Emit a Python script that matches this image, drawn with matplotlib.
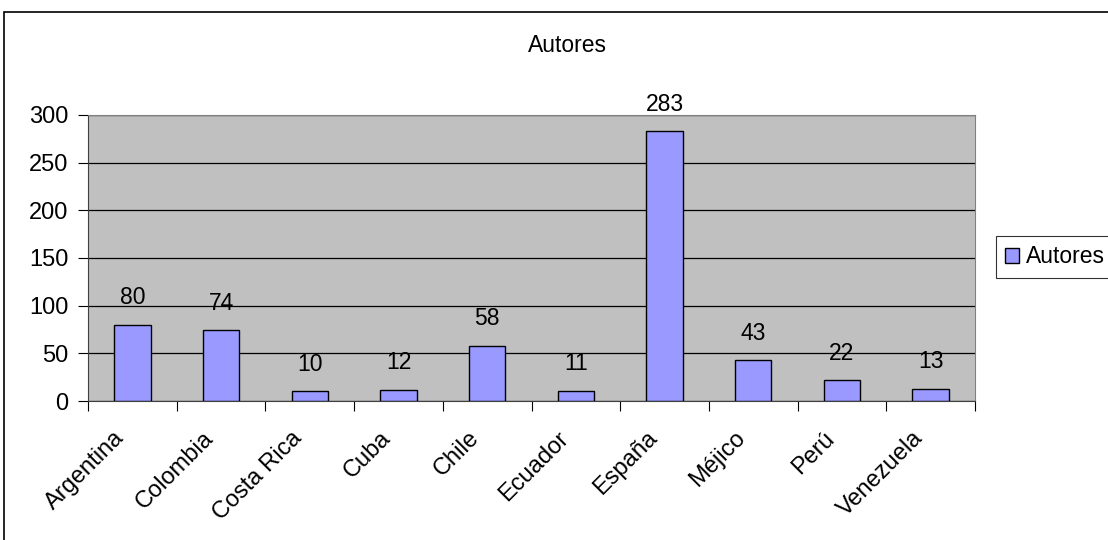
import numpy as np
import matplotlib.pyplot as plt
from matplotlib.patches import Rectangle
from matplotlib.transforms import ScaledTranslation

paises = ["Argentina", "Colombia", "Costa Rica", "Cuba", "Chile",
          "Ecuador", "España", "Méjico", "Perú", "Venezuela"]
autores = [80, 74, 10, 12, 58, 11, 283, 43, 22, 13]

plt.rcParams['font.family'] = ['Liberation Sans', 'DejaVu Sans']

fig = plt.figure(figsize=(11.08, 5.4), dpi=100)
W, H = 1108, 540
ax = fig.add_axes([88 / W, 1 - 401 / H, (975 - 88) / W, (401 - 115) / H])

# outer chart frame
fig.patches.append(Rectangle((4 / W, -0.1), 1.2, 1 - 12 / H + 0.1,
                             transform=fig.transFigure, fill=False,
                             edgecolor='black', linewidth=1.2))

x = np.arange(len(paises))
bars = ax.bar(x, autores, width=0.41, color='#9999FF', edgecolor='black',
              linewidth=1, zorder=3, label='Autores')
for xi, v in zip(x, autores):
    ax.annotate(str(v), (xi, v), xytext=(0, 11), textcoords='offset points',
                ha='center', va='bottom', fontsize=16.5)

ax.set_facecolor('#C0C0C0')
ax.set_xlim(-0.5, len(paises) - 0.5)
ax.set_ylim(0, 300)
ax.set_yticks(range(0, 301, 50))
ax.yaxis.grid(True, color='black', linewidth=0.9, zorder=1)
ax.set_axisbelow(True)
ax.set_xticks(np.arange(len(paises) + 1) - 0.5)
ax.set_xticklabels([])

# category labels, rotated and placed by hand relative to each category
off = ScaledTranslation(-11 / 100, -34 / 100, fig.dpi_scale_trans)
for xi, name in zip(x, paises):
    ax.text(xi, 0, name, transform=ax.get_xaxis_transform() + off,
            rotation=45, ha='right', va='center', rotation_mode='anchor',
            fontsize=17)

ax.tick_params(axis='x', which='major', length=7, direction='out')
ax.tick_params(axis='y', length=7, labelsize=17, pad=7)
for s in ['top', 'right']:
    ax.spines[s].set_color('#808080')
for s in ['left', 'bottom']:
    ax.spines[s].set_color('#404040')

fig.text(567 / W, 1 - 46 / H, "Autores", ha='center', va='center', fontsize=16.5)

leg = fig.legend(handles=[bars], labels=['Autores'], loc='center left',
                 bbox_to_anchor=(996 / W, 1 - 257 / H), fontsize=16.5,
                 frameon=True, fancybox=False, edgecolor='black',
                 handlelength=0.6, handleheight=0.6, handletextpad=0.3,
                 borderpad=0.4, borderaxespad=0)
leg.get_frame().set_linewidth(0.8)

fig.savefig("out.png", dpi=100)
